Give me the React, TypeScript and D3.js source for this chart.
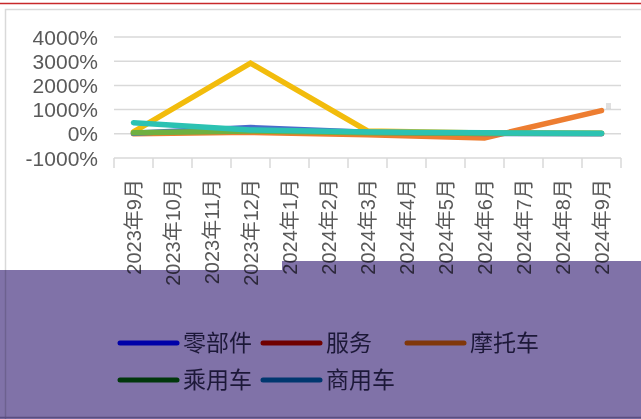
import React from "react";
import * as d3 from "d3";

const categories = [
  "2023年9月", "2023年10月", "2023年11月", "2023年12月", "2024年1月", "2024年2月",
  "2024年3月", "2024年4月", "2024年5月", "2024年6月", "2024年7月", "2024年8月", "2024年9月",
];
const yTicks = [-1000, 0, 1000, 2000, 3000, 4000];

// plotted series (quarterly points; gaps connected)
const seriesParts = [20, null, null, 260, null, null, 60, null, null, 10, null, null, 0];
const seriesService = [80, null, null, 2920, null, null, 120, null, null, 30, null, null, 20];
const seriesMotorcycle = [0, null, null, 60, null, null, -40, null, null, -170, null, null, 960];
const seriesPassenger = [40, null, null, 120, null, null, 40, null, null, 20, null, null, 10];
const seriesCommercial = [460, null, null, 160, null, null, 70, null, null, 40, null, null, 20];

const legendNames = ["零部件", "服务", "摩托车", "乘用车", "商用车"];
const legendColors = ["#0000ff", "#e00000", "#ff7a10", "#007a10", "#007aa8"];

const lines: { values: (number | null)[]; color: string }[] = [
  { values: seriesMotorcycle, color: "#ed7d31" },
  { values: seriesService, color: "#f2bc0c" },
  { values: seriesParts, color: "#4a6ccc" },
  { values: seriesPassenger, color: "#70b040" },
  { values: seriesCommercial, color: "#2cc2b2" },
];

export default function App() {
  const W = 641, H = 419;
  const x = d3.scaleBand<string>().domain(categories).range([114, 621]);
  const y = d3.scaleLinear().domain([-1000, 4000]).range([158, 37]);
  const cx = (c: string) => (x(c) as number) + x.bandwidth() / 2;
  const lineGen = d3
    .line<{ c: string; v: number }>()
    .x((d) => cx(d.c))
    .y((d) => y(d.v));

  const boundaries = categories.map((c) => x(c) as number).concat([621]);

  const legendItems = legendNames.map((name, i) => {
    const row = i < 3 ? 0 : 1;
    const col = i < 3 ? i : i - 3;
    const lx = [120, 263, 407][col];
    const ly = row === 0 ? 343 : 380;
    return { name, color: legendColors[i], lx, ly };
  });

  return (
    <svg
      width={W}
      height={H}
      style={{ position: "absolute", left: 0, top: 0 }}
      fontFamily="'Liberation Sans', Arial, sans-serif"
    >
      <rect x={0} y={0} width={W} height={H} fill="#ffffff" />
      <line x1={0} x2={W} y1={3.5} y2={3.5} stroke="#c8282a" strokeWidth={1.6} />
      <path d={`M5.5,${H} V9.5 H${W}`} fill="none" stroke="#d9d9d9" strokeWidth={1.5} />

      {yTicks.slice(1).map((t) => (
        <line key={t} x1={114} x2={621} y1={y(t)} y2={y(t)} stroke="#d9d9d9" strokeWidth={1.5} />
      ))}
      <line x1={114} x2={621} y1={y(-1000)} y2={y(-1000)} stroke="#d9d9d9" strokeWidth={1.5} />
      {boundaries.map((b, i) => (
        <line key={i} x1={b} x2={b} y1={y(-1000)} y2={y(-1000) + 10} stroke="#d9d9d9" strokeWidth={1.5} />
      ))}

      {yTicks.map((t) => (
        <text key={t} x={98} y={y(t)} dy="0.36em" textAnchor="end" fontSize={21} fill="#595959">
          {`${t}%`}
        </text>
      ))}

      {categories.map((c) => (
        <text
          key={c}
          transform={`translate(${cx(c)},179) rotate(-90)`}
          textAnchor="end"
          dy="0.36em"
          fontSize={20}
          fill="#595959"
          fontFamily="'Liberation Sans', 'Noto Sans CJK SC', sans-serif"
        >
          {c}
        </text>
      ))}

      {lines.map((s, i) => {
        const pts = s.values
          .map((v, j) => ({ c: categories[j], v }))
          .filter((d) => d.v !== null) as { c: string; v: number }[];
        return (
          <path
            key={i}
            d={lineGen(pts) || ""}
            fill="none"
            stroke={s.color}
            strokeWidth={5.5}
            strokeLinecap="round"
            strokeLinejoin="miter"
          />
        );
      })}
      <g stroke="#b0b0b0" strokeWidth={0.8}>
        <line x1={606} x2={611} y1={104} y2={104} />
        <line x1={606} x2={611} y1={106} y2={106} />
        <line x1={606} x2={611} y1={108} y2={108} />
      </g>

      <path
        d={`M0,270 H282 V261 H${W} V${H} H0 Z`}
        fill="#8072a8"
        style={{ mixBlendMode: "multiply" }}
      />
      <line x1={0} x2={W} y1={417.5} y2={417.5} stroke="#5a4e80" strokeWidth={1.5} />

      {legendItems.map((it) => (
        <g key={it.name}>
          <line
            x1={it.lx}
            x2={it.lx + 57}
            y1={it.ly}
            y2={it.ly}
            stroke={it.color}
            strokeWidth={5}
            strokeLinecap="round"
            style={{ mixBlendMode: "multiply" }}
          />
          <text
            x={it.lx + 63}
            y={it.ly}
            dy="0.36em"
            fontSize={23}
            fill="#1c1838"
            fontFamily="'Noto Sans CJK SC', sans-serif"
          >
            {it.name}
          </text>
        </g>
      ))}
    </svg>
  );
}
